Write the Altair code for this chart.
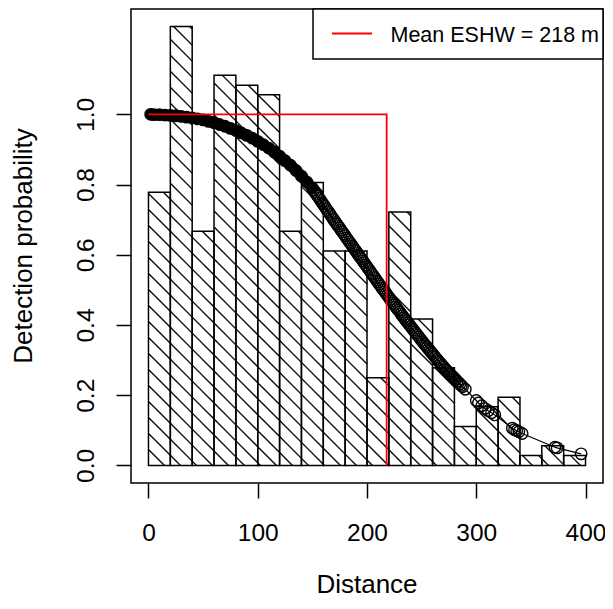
import math
import altair as alt
import pandas as pd

# ---------------- data ----------------
bin_left = [0, 20, 40, 60, 80, 100, 120, 140, 160, 180,
            200, 220, 240, 260, 280, 300, 320, 340, 360, 380]
bin_width = 20
bar_heights = [0.778, 1.250, 0.667, 1.111, 1.083, 1.056, 0.667, 0.806, 0.611, 0.611,
               0.250, 0.722, 0.417, 0.278, 0.111, 0.167, 0.194, 0.028, 0.056, 0.028]

curve_d = [2, 5, 10, 15, 20, 25, 30, 35, 40, 45, 50, 55, 60, 65, 70, 75, 80, 85, 90, 95,
           100, 105, 110, 115, 120, 125, 130, 135, 140, 145,
           150, 152.5, 155, 157.5, 160, 162.5, 165, 167.5, 170, 172.5, 175, 177.5,
           180, 182.5, 185, 187.5, 190, 192.5, 195, 197.5, 200, 202.5, 205, 207.5,
           210, 212.5, 215, 217.5, 220, 222.5, 225, 227.5, 230, 232.5, 235, 237.5,
           240, 242.5, 245, 247.5, 250, 252.5, 255, 257.5, 260, 262.5, 265, 267.5,
           270, 272.5, 275, 277.5, 280, 282.5, 285, 287.5, 290,
           300, 302, 305, 308, 311, 314, 317, 333, 335, 337, 339, 342, 372, 374, 396]
curve_g = [1.000, 0.999, 0.999, 0.998, 0.997, 0.996, 0.994, 0.992, 0.990, 0.987,
           0.984, 0.980, 0.976, 0.971, 0.966, 0.960, 0.954, 0.947, 0.940, 0.932,
           0.923, 0.914, 0.904, 0.893, 0.881, 0.868, 0.855, 0.840, 0.824, 0.807,
           0.790, 0.778, 0.767, 0.755, 0.744, 0.732, 0.721, 0.709, 0.698, 0.687, 0.676, 0.665,
           0.654, 0.643, 0.632, 0.621, 0.610, 0.599, 0.588, 0.577, 0.566, 0.555, 0.544, 0.533,
           0.522, 0.511, 0.500, 0.490, 0.479, 0.468, 0.458, 0.447, 0.437, 0.426, 0.416, 0.406,
           0.396, 0.386, 0.376, 0.366, 0.356, 0.346, 0.337, 0.327, 0.318, 0.308, 0.299, 0.290,
           0.281, 0.272, 0.264, 0.256, 0.248, 0.240, 0.232, 0.224, 0.217,
           0.185, 0.178, 0.170, 0.162, 0.156, 0.150, 0.144, 0.106, 0.102, 0.099, 0.096, 0.091,
           0.052, 0.050, 0.033]

# further observations in the densely packed part of the curve
more_d = [151.25, 153.75, 156.25, 158.75, 161.25, 163.75, 166.25, 168.75, 171.25, 173.75,
          176.25, 178.75, 181.25, 183.75, 186.25, 188.75, 191.25, 193.75, 196.25, 198.75,
          201.25, 203.75, 206.25, 208.75, 211.25, 213.75, 216.25, 218.75, 221.25, 223.75,
          226.25, 228.75, 231.25, 233.75, 236.25, 238.75, 241.25, 243.75, 246.25, 248.75,
          251.25, 253.75, 256.25, 258.75, 261.25, 263.75, 266.25, 268.75, 271.25, 273.75,
          276.25, 278.75, 281.25, 283.75, 286.25]
more_g = [0.784, 0.772, 0.761, 0.749, 0.738, 0.726, 0.715, 0.703, 0.692, 0.681,
          0.670, 0.659, 0.648, 0.637, 0.626, 0.615, 0.604, 0.593, 0.582, 0.571,
          0.560, 0.549, 0.538, 0.527, 0.516, 0.505, 0.495, 0.484, 0.473, 0.463,
          0.452, 0.442, 0.431, 0.421, 0.411, 0.401, 0.391, 0.381, 0.371, 0.361,
          0.351, 0.341, 0.332, 0.322, 0.313, 0.303, 0.294, 0.285, 0.276, 0.268,
          0.260, 0.252, 0.244, 0.236, 0.228]

eshw = 218
eshw_label = "Mean ESHW = 218 m"
x_title = "Distance"
y_title = "Detection probability"
x_ticks = [0, 100, 200, 300, 400]
y_ticks = [0.0, 0.2, 0.4, 0.6, 0.8, 1.0]

# ---------------- layout / style ----------------
W, H = 472, 474
XDOM = [-16, 416]
YDOM = [-0.05, 1.30]
FONT = "Liberation Sans"
FS = 24.5
HATCH_PX = 16

xs = alt.Scale(domain=XDOM, nice=False, zero=False)
ys = alt.Scale(domain=YDOM, nice=False, zero=False)

x_axis = alt.Axis(values=x_ticks, title=None, grid=False, domain=False,
                  tickSize=15, tickWidth=1.5, tickColor="black",
                  labelFont=FONT, labelFontSize=FS, labelColor="black",
                  labelPadding=42, labelBaseline="alphabetic", labelAlign="center",
                  labelFlush=False, labelOverlap=False)
y_axis = alt.Axis(values=y_ticks, format=".1f", title=None, grid=False, domain=False,
                  tickSize=15, tickWidth=1.5, tickColor="black",
                  labelFont=FONT, labelFontSize=FS, labelColor="black",
                  labelAngle=270, labelAlign="center", labelBaseline="alphabetic",
                  labelPadding=23, labelFlush=False, labelOverlap=False)


def X(f):
    return alt.X(f, scale=xs, axis=x_axis)


def Y(f):
    return alt.Y(f, scale=ys, axis=y_axis)


bars = pd.DataFrame({
    "x0": bin_left,
    "x1": [b + bin_width for b in bin_left],
    "h": bar_heights,
    "y0": [0.0] * len(bin_left),
})

# hatch segments ("\\" lines, aligned across bars), built from bar data
kx = W / (XDOM[1] - XDOM[0])
ky = H / (YDOM[1] - YDOM[0])
s = kx / ky
dv = HATCH_PX / ky
rows = []
for a, h in zip(bin_left, bar_heights):
    a2 = a + bin_width
    k0 = math.ceil(s * a / dv)
    k1 = math.floor((h + s * a2) / dv)
    for k in range(k0, k1 + 1):
        b = k * dv
        d0 = max(a, (b - h) / s)
        d1 = min(a2, b / s)
        if d1 - d0 > 1e-6:
            rows.append({"x": d0, "y": b - s * d0, "x2": d1, "y2": b - s * d1})
hatch = pd.DataFrame(rows)

curve = pd.DataFrame({"d": curve_d + more_d, "g": curve_g + more_g})
eshw_df = pd.DataFrame({"d": [0, eshw, eshw], "g": [1.0, 1.0, 0.0], "o": [0, 1, 2]})

bar_layer = alt.Chart(bars).mark_rect(fill="transparent", stroke="black", strokeWidth=1.5).encode(
    x=X("x0:Q"), x2="x1:Q", y=Y("h:Q"), y2="y0:Q")

hatch_layer = alt.Chart(hatch).mark_rule(color="black", strokeWidth=1.3).encode(
    x=X("x:Q"), x2="x2:Q", y=Y("y:Q"), y2="y2:Q")

band_layer = alt.Chart(curve).transform_filter("datum.d <= 150").mark_line(
    color="black", strokeWidth=11, strokeCap="round").encode(x=X("d:Q"), y=Y("g:Q"))

line_layer = alt.Chart(curve).mark_line(color="black", strokeWidth=1.2).encode(
    x=X("d:Q"), y=Y("g:Q"))

pts_layer = alt.Chart(curve).mark_point(shape="circle", filled=False, size=130,
                                         strokeWidth=1.4, color="black", opacity=1).encode(
    x=X("d:Q"), y=Y("g:Q"))

eshw_layer = alt.Chart(eshw_df).mark_line(color="#ff0000", strokeWidth=1.8).encode(
    x=X("d:Q"), y=Y("g:Q"), order="o:Q")

one = pd.DataFrame({"t": [eshw_label]})
leg_box = alt.Chart(one).mark_rect(fill="white", stroke="black", strokeWidth=1.5).encode(
    x=alt.value(182), x2=alt.value(472), y=alt.value(0), y2=alt.value(50))
leg_line = alt.Chart(one).mark_rule(color="#ff0000", strokeWidth=1.8).encode(
    x=alt.value(201), x2=alt.value(241), y=alt.value(24.5))
leg_text = alt.Chart(one).mark_text(font=FONT, fontSize=21.5, align="left",
                                    baseline="alphabetic", color="black").encode(
    text="t:N", x=alt.value(259.5), y=alt.value(32.5))

xt = alt.Chart(pd.DataFrame({"t": [x_title]})).mark_text(
    font=FONT, fontSize=26, align="center", baseline="alphabetic", color="black").encode(
    text="t:N", x=alt.value(W / 2), y=alt.value(584))
yt = alt.Chart(pd.DataFrame({"t": [y_title]})).mark_text(
    font=FONT, fontSize=26, align="center", baseline="alphabetic", angle=270, color="black").encode(
    text="t:N", x=alt.value(-99), y=alt.value(H / 2))

chart = alt.layer(bar_layer, hatch_layer, band_layer, line_layer, pts_layer,
                  eshw_layer, leg_box, leg_line, leg_text, xt, yt).properties(
    width=W, height=H,
    autosize=alt.AutoSizeParams(type="none"),
    padding={"left": 123, "top": 1, "right": 2, "bottom": 117},
    background="white",
).configure_view(stroke="black", strokeWidth=1.5)

chart.save("out.html", embed_options={"renderer": "svg", "actions": False})
